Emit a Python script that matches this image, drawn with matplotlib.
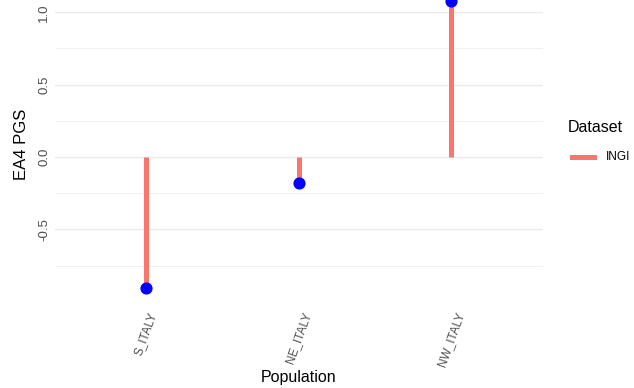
import matplotlib
matplotlib.use("Agg")
import matplotlib.pyplot as plt
from matplotlib.lines import Line2D

plt.rcParams['font.family'] = ['Liberation Sans', 'DejaVu Sans']

# EA4 polygenic score per population (INGI dataset)
populations = ["S_ITALY", "NE_ITALY", "NW_ITALY"]
pgs_values = [-0.903, -0.179, 1.076]
dataset = "INGI"

seg_color = "#F8766D"
grid_color = "#EBEBEB"
text_gray = "#4D4D4D"

W, H = 634, 388
fig = plt.figure(figsize=(W / 100, H / 100), dpi=100)
ax = fig.add_axes([0.086, 0.2216, 0.7697, 0.812])

x = list(range(1, len(populations) + 1))

# lollipops: segment from zero, point at the value
ax.vlines(x, 0, pgs_values, color=seg_color, linewidth=3.6, zorder=2)
ax.scatter(x, pgs_values, s=60, color="blue", zorder=3, clip_on=False)

lo = min(min(pgs_values), 0)
hi = max(max(pgs_values), 0)
pad = (hi - lo) * 0.05
ax.set_ylim(lo - pad, hi + pad)
ax.set_xlim(0.4, len(populations) + 0.6)

ax.set_yticks([-0.5, 0.0, 0.5, 1.0])
ax.set_yticks([-0.75, -0.25, 0.25, 0.75], minor=True)
ax.set_yticklabels(["-0.5", "0.0", "0.5", "1.0"], rotation=90, va="center",
                   color=text_gray, fontsize=9.5)
ax.grid(axis="y", which="major", color=grid_color, linewidth=1.0, zorder=0)
ax.grid(axis="y", which="minor", color=grid_color, linewidth=0.5, zorder=0)
ax.set_axisbelow(True)

ax.set_xticks(x)
ax.set_xticklabels(populations, rotation=70, ha="center", va="top",
                   color=text_gray, fontsize=8.5)

ax.tick_params(axis="both", which="both", length=0)
ax.tick_params(axis="y", pad=3)
ax.tick_params(axis="x", pad=6)
for s in ax.spines.values():
    s.set_visible(False)

ax.set_ylabel("EA4 PGS", fontsize=12, labelpad=7)
ax.set_xlabel("Population", fontsize=11.5, va="center")
ax.xaxis.set_label_coords(0.5, -0.241)

# legend to the right of the panel
fig.text(568 / W, 1 - 128 / H, "Dataset", fontsize=11.5, ha="left", va="center")
fig.add_artist(Line2D([572 / W, 594 / W], [1 - 157 / H, 1 - 157 / H],
                      color=seg_color, linewidth=3.6, transform=fig.transFigure))
fig.text(606 / W, 1 - 157 / H, dataset, fontsize=8.5, ha="left", va="center")

fig.savefig("out.png", dpi=100)
